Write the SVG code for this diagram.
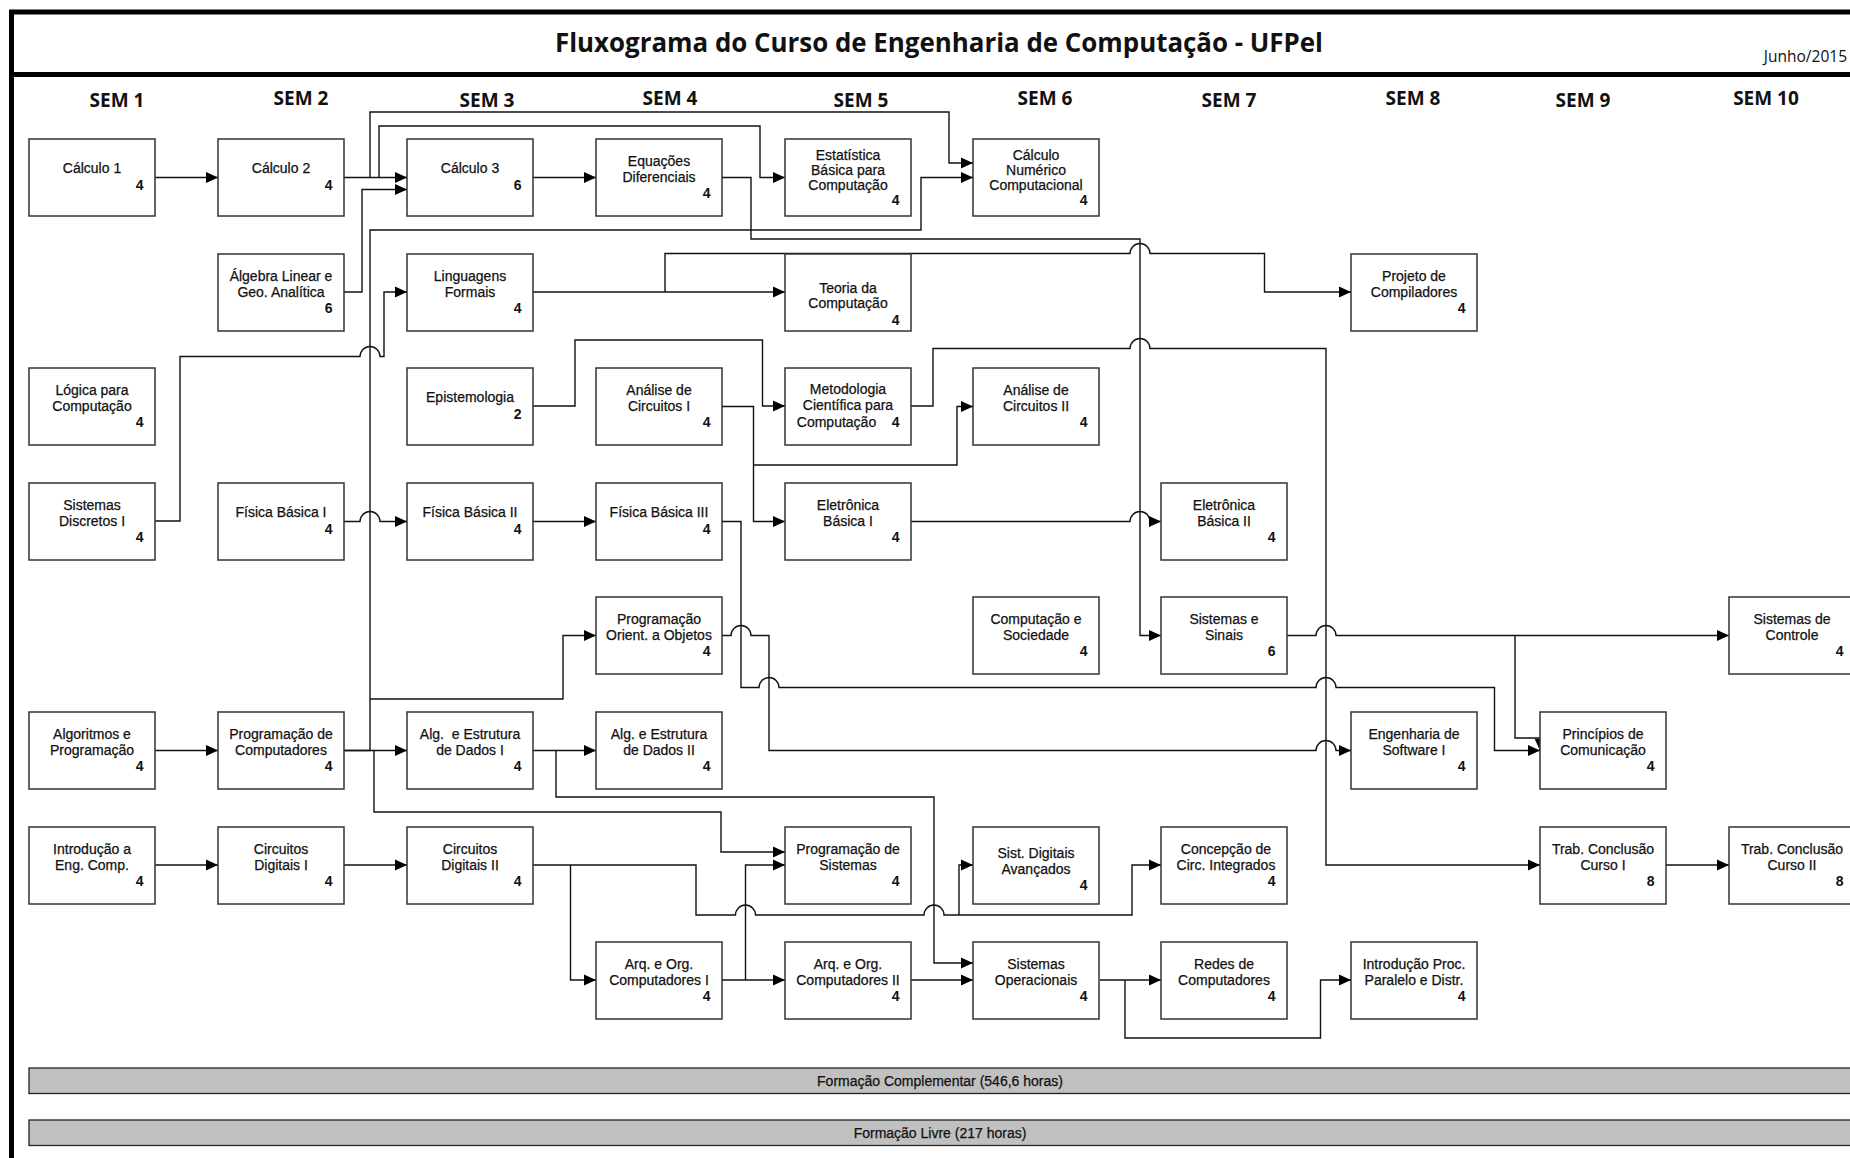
<svg xmlns="http://www.w3.org/2000/svg" width="1850" height="1158" viewBox="0 0 1850 1158">
<style>
.box{fill:#fff;stroke:#333;stroke-width:1.5}
.t{font-family:"Liberation Sans",Arial,sans-serif;font-size:14px;fill:#111;stroke:#111;stroke-width:0.25;text-anchor:middle}
.n{font-family:"Liberation Sans",Arial,sans-serif;font-size:14px;font-weight:bold;fill:#111;text-anchor:end}
.sem{font-family:"Open Sans","Liberation Sans",sans-serif;font-size:19px;font-weight:bold;fill:#111;text-anchor:middle}
.c{fill:none;stroke:#111;stroke-width:1.4;marker-end:url(#ah)}
.bar{fill:#c0c0c0;stroke:#222;stroke-width:1.3}
.frame{stroke:#000;stroke-width:5;fill:none}
</style>
<defs>
<marker id="ah" markerWidth="12" markerHeight="12" refX="12" refY="6" orient="auto" markerUnits="userSpaceOnUse"><path d="M0,0.5 L12,6 L0,11.5 z" fill="#000"/></marker>
</defs>
<rect width="1850" height="1158" fill="#fff"/>
<g id="frame">
<line class="frame" x1="9" y1="12" x2="1850" y2="12"/>
<line class="frame" x1="9" y1="74.5" x2="1850" y2="74.5"/>
<line class="frame" x1="11.5" y1="10" x2="11.5" y2="1158"/>
<text x="939" y="52" font-family="Open Sans, Liberation Sans, sans-serif" font-size="27" font-weight="bold" fill="#111" text-anchor="middle" textLength="768" lengthAdjust="spacingAndGlyphs">Fluxograma do Curso de Engenharia de Computação - UFPel</text>
<text x="1847" y="62" font-family="Open Sans, Liberation Sans, sans-serif" font-size="15.5" fill="#111" text-anchor="end">Junho/2015</text>
</g>
<g id="headers">
<text class="sem" x="117" y="107">SEM 1</text>
<text class="sem" x="301" y="105">SEM 2</text>
<text class="sem" x="487" y="107">SEM 3</text>
<text class="sem" x="670" y="105">SEM 4</text>
<text class="sem" x="861" y="107">SEM 5</text>
<text class="sem" x="1045" y="105">SEM 6</text>
<text class="sem" x="1229" y="107">SEM 7</text>
<text class="sem" x="1413" y="105">SEM 8</text>
<text class="sem" x="1583" y="107">SEM 9</text>
<text class="sem" x="1766" y="105">SEM 10</text>
</g>
<g id="connectors">
<path class="c" d="M155,177.5 H218"/>
<path class="c" d="M344,177.5 H407"/>
<path class="c" d="M370,177.5 V112 H949 V163 H973"/>
<path class="c" d="M379,177.5 V126 H760 V177.5 H785"/>
<path class="c" d="M344,292 H362 V189.5 H407"/>
<path class="c" d="M533,177.5 H596"/>
<path class="c" d="M722,177.5 H751 V239 H1140 V635.5 H1161"/>
<path class="c" d="M344,750.5 H370 V230 H921 V177.5 H973"/>
<path class="c" d="M370,699 H563 V635.5 H596"/>
<path class="c" d="M344,750.5 H407"/>
<path class="c" d="M374,750.5 V812 H721 V852 H785"/>
<path class="c" d="M533,750.5 H596"/>
<path class="c" d="M556,750.5 V797 H934 V963 H973"/>
<path class="c" d="M533,292 H785"/>
<path class="c" d="M665,292 V253.5 H1130 A10,10 0 0 1 1150,253.5 H1264.5 V292 H1351"/>
<path class="c" d="M533,406 H575 V340 H762.5 V406 H785"/>
<path class="c" d="M911,406 H933 V348.5 H1130 A10,10 0 0 1 1150,348.5 H1326 V865 H1540"/>
<path class="c" d="M722,406.5 H753.5 V521.5 H785"/>
<path class="c" d="M753.5,465 H957 V406.5 H973"/>
<path class="c" d="M911,521.5 H1130 A10,10 0 0 1 1150,521.5 H1161"/>
<path class="c" d="M155,521 H180 V356.5 H360 A10,10 0 0 1 380,356.5 H384 V292 H407"/>
<path class="c" d="M344,521.5 H360 A10,10 0 0 1 380,521.5 H407"/>
<path class="c" d="M533,521.5 H596"/>
<path class="c" d="M722,521.5 H741 V687.5 H759 A10,10 0 0 1 779,687.5 H1316 A10,10 0 0 1 1336,687.5 H1494.5 V750.5 H1540"/>
<path class="c" d="M722,635.5 H731 A10,10 0 0 1 751,635.5 H769 V750.5 H1316 A10,10 0 0 1 1336,750.5 H1351"/>
<path class="c" d="M1286,635.5 H1316 A10,10 0 0 1 1336,635.5 H1729"/>
<path class="c" d="M1515,635.5 V738 H1540 V750.5"/>
<path class="c" d="M155,750.5 H218"/>
<path class="c" d="M155,865 H218"/>
<path class="c" d="M344,865 H407"/>
<path class="c" d="M533,865 H696 V915 H735.5 A10,10 0 0 1 755.5,915 H924 A10,10 0 0 1 944,915 H1132 V865 H1161"/>
<path class="c" d="M959,915 V865 H973"/>
<path class="c" d="M570.5,865 V980 H596"/>
<path class="c" d="M722,980 H785"/>
<path class="c" d="M745.5,980 V865 H785"/>
<path class="c" d="M911,980 H973"/>
<path class="c" d="M1100,980 H1161"/>
<path class="c" d="M1125,980 V1038 H1320.5 V980 H1351"/>
<path class="c" d="M1666,865 H1729"/>
</g>
<g id="n-calculo1"><rect class="box" x="29" y="139" width="126" height="77"/><text class="t" x="92" y="173">Cálculo 1</text><text class="n" x="143.5" y="190">4</text></g>
<g id="n-calculo2"><rect class="box" x="218" y="139" width="126" height="77"/><text class="t" x="281" y="173">Cálculo 2</text><text class="n" x="332.5" y="190">4</text></g>
<g id="n-calculo3"><rect class="box" x="407" y="139" width="126" height="77"/><text class="t" x="470" y="173">Cálculo 3</text><text class="n" x="521.5" y="190">6</text></g>
<g id="n-eqdif"><rect class="box" x="596" y="139" width="126" height="77"/><text class="t" x="659" y="165.5">Equações</text><text class="t" x="659" y="181.5">Diferenciais</text><text class="n" x="710.5" y="198">4</text></g>
<g id="n-estat"><rect class="box" x="785" y="139" width="126" height="77"/><text class="t" x="848" y="160">Estatística</text><text class="t" x="848" y="175">Básica para</text><text class="t" x="848" y="190">Computação</text><text class="n" x="899.5" y="205">4</text></g>
<g id="n-calcnum"><rect class="box" x="973" y="139" width="126" height="77"/><text class="t" x="1036" y="160">Cálculo</text><text class="t" x="1036" y="175">Numérico</text><text class="t" x="1036" y="190">Computacional</text><text class="n" x="1087.5" y="205">4</text></g>
<g id="n-algebra"><rect class="box" x="218" y="254" width="126" height="77"/><text class="t" x="281" y="280.5">Álgebra Linear e</text><text class="t" x="281" y="296.5">Geo. Analítica</text><text class="n" x="332.5" y="313">6</text></g>
<g id="n-ling"><rect class="box" x="407" y="254" width="126" height="77"/><text class="t" x="470" y="280.5">Linguagens</text><text class="t" x="470" y="296.5">Formais</text><text class="n" x="521.5" y="313">4</text></g>
<g id="n-teoria"><rect class="box" x="785" y="254" width="126" height="77"/><text class="t" x="848" y="293">Teoria da</text><text class="t" x="848" y="308">Computação</text><text class="n" x="899.5" y="325">4</text></g>
<g id="n-compil"><rect class="box" x="1351" y="254" width="126" height="77"/><text class="t" x="1414" y="280.5">Projeto de</text><text class="t" x="1414" y="296.5">Compiladores</text><text class="n" x="1465.5" y="313">4</text></g>
<g id="n-logica"><rect class="box" x="29" y="368" width="126" height="77"/><text class="t" x="92" y="394.5">Lógica para</text><text class="t" x="92" y="410.5">Computação</text><text class="n" x="143.5" y="427">4</text></g>
<g id="n-epist"><rect class="box" x="407" y="368" width="126" height="77"/><text class="t" x="470" y="402">Epistemologia</text><text class="n" x="521.5" y="419">2</text></g>
<g id="n-analise1"><rect class="box" x="596" y="368" width="126" height="77"/><text class="t" x="659" y="394.5">Análise de</text><text class="t" x="659" y="410.5">Circuitos I</text><text class="n" x="710.5" y="427">4</text></g>
<g id="n-metod"><rect class="box" x="785" y="368" width="126" height="77"/><text class="t" x="848" y="394">Metodologia</text><text class="t" x="848" y="410">Científica para</text><text class="t" x="836.5" y="426.5">Computação</text><text class="n" x="899.5" y="426.5">4</text></g>
<g id="n-analise2"><rect class="box" x="973" y="368" width="126" height="77"/><text class="t" x="1036" y="394.5">Análise de</text><text class="t" x="1036" y="410.5">Circuitos II</text><text class="n" x="1087.5" y="427">4</text></g>
<g id="n-sistdisc"><rect class="box" x="29" y="483" width="126" height="77"/><text class="t" x="92" y="509.5">Sistemas</text><text class="t" x="92" y="525.5">Discretos I</text><text class="n" x="143.5" y="542">4</text></g>
<g id="n-fis1"><rect class="box" x="218" y="483" width="126" height="77"/><text class="t" x="281" y="517">Física Básica I</text><text class="n" x="332.5" y="534">4</text></g>
<g id="n-fis2"><rect class="box" x="407" y="483" width="126" height="77"/><text class="t" x="470" y="517">Física Básica II</text><text class="n" x="521.5" y="534">4</text></g>
<g id="n-fis3"><rect class="box" x="596" y="483" width="126" height="77"/><text class="t" x="659" y="517">Física Básica III</text><text class="n" x="710.5" y="534">4</text></g>
<g id="n-elet1"><rect class="box" x="785" y="483" width="126" height="77"/><text class="t" x="848" y="509.5">Eletrônica</text><text class="t" x="848" y="525.5">Básica I</text><text class="n" x="899.5" y="542">4</text></g>
<g id="n-elet2"><rect class="box" x="1161" y="483" width="126" height="77"/><text class="t" x="1224" y="509.5">Eletrônica</text><text class="t" x="1224" y="525.5">Básica II</text><text class="n" x="1275.5" y="542">4</text></g>
<g id="n-poo"><rect class="box" x="596" y="597" width="126" height="77"/><text class="t" x="659" y="623.5">Programação</text><text class="t" x="659" y="639.5">Orient. a Objetos</text><text class="n" x="710.5" y="656">4</text></g>
<g id="n-compsoc"><rect class="box" x="973" y="597" width="126" height="77"/><text class="t" x="1036" y="623.5">Computação e</text><text class="t" x="1036" y="639.5">Sociedade</text><text class="n" x="1087.5" y="656">4</text></g>
<g id="n-sinais"><rect class="box" x="1161" y="597" width="126" height="77"/><text class="t" x="1224" y="623.5">Sistemas e</text><text class="t" x="1224" y="639.5">Sinais</text><text class="n" x="1275.5" y="656">6</text></g>
<g id="n-controle"><rect class="box" x="1729" y="597" width="126" height="77"/><text class="t" x="1792" y="623.5">Sistemas de</text><text class="t" x="1792" y="639.5">Controle</text><text class="n" x="1843.5" y="656">4</text></g>
<g id="n-algprog"><rect class="box" x="29" y="712" width="126" height="77"/><text class="t" x="92" y="738.5">Algoritmos e</text><text class="t" x="92" y="754.5">Programação</text><text class="n" x="143.5" y="771">4</text></g>
<g id="n-progcomp"><rect class="box" x="218" y="712" width="126" height="77"/><text class="t" x="281" y="738.5">Programação de</text><text class="t" x="281" y="754.5">Computadores</text><text class="n" x="332.5" y="771">4</text></g>
<g id="n-aed1"><rect class="box" x="407" y="712" width="126" height="77"/><text class="t" x="470" y="738.5" xml:space="preserve">Alg.  e Estrutura</text><text class="t" x="470" y="754.5">de Dados I</text><text class="n" x="521.5" y="771">4</text></g>
<g id="n-aed2"><rect class="box" x="596" y="712" width="126" height="77"/><text class="t" x="659" y="738.5">Alg. e Estrutura</text><text class="t" x="659" y="754.5">de Dados II</text><text class="n" x="710.5" y="771">4</text></g>
<g id="n-engsw"><rect class="box" x="1351" y="712" width="126" height="77"/><text class="t" x="1414" y="738.5">Engenharia de</text><text class="t" x="1414" y="754.5">Software I</text><text class="n" x="1465.5" y="771">4</text></g>
<g id="n-princ"><rect class="box" x="1540" y="712" width="126" height="77"/><text class="t" x="1603" y="738.5">Princípios de</text><text class="t" x="1603" y="754.5">Comunicação</text><text class="n" x="1654.5" y="771">4</text></g>
<g id="n-intro"><rect class="box" x="29" y="827" width="126" height="77"/><text class="t" x="92" y="853.5">Introdução a</text><text class="t" x="92" y="869.5">Eng. Comp.</text><text class="n" x="143.5" y="886">4</text></g>
<g id="n-cd1"><rect class="box" x="218" y="827" width="126" height="77"/><text class="t" x="281" y="853.5">Circuitos</text><text class="t" x="281" y="869.5">Digitais I</text><text class="n" x="332.5" y="886">4</text></g>
<g id="n-cd2"><rect class="box" x="407" y="827" width="126" height="77"/><text class="t" x="470" y="853.5">Circuitos</text><text class="t" x="470" y="869.5">Digitais II</text><text class="n" x="521.5" y="886">4</text></g>
<g id="n-progsist"><rect class="box" x="785" y="827" width="126" height="77"/><text class="t" x="848" y="853.5">Programação de</text><text class="t" x="848" y="869.5">Sistemas</text><text class="n" x="899.5" y="886">4</text></g>
<g id="n-sda"><rect class="box" x="973" y="827" width="126" height="77"/><text class="t" x="1036" y="858">Sist. Digitais</text><text class="t" x="1036" y="873.5">Avançados</text><text class="n" x="1087.5" y="890">4</text></g>
<g id="n-ci"><rect class="box" x="1161" y="827" width="126" height="77"/><text class="t" x="1226" y="853.5">Concepção de</text><text class="t" x="1226" y="869.5">Circ. Integrados</text><text class="n" x="1275.5" y="886">4</text></g>
<g id="n-tcc1"><rect class="box" x="1540" y="827" width="126" height="77"/><text class="t" x="1603" y="853.5">Trab. Conclusão</text><text class="t" x="1603" y="869.5">Curso I</text><text class="n" x="1654.5" y="886">8</text></g>
<g id="n-tcc2"><rect class="box" x="1729" y="827" width="126" height="77"/><text class="t" x="1792" y="853.5">Trab. Conclusão</text><text class="t" x="1792" y="869.5">Curso II</text><text class="n" x="1843.5" y="886">8</text></g>
<g id="n-arq1"><rect class="box" x="596" y="942" width="126" height="77"/><text class="t" x="659" y="968.5">Arq. e Org.</text><text class="t" x="659" y="984.5">Computadores I</text><text class="n" x="710.5" y="1001">4</text></g>
<g id="n-arq2"><rect class="box" x="785" y="942" width="126" height="77"/><text class="t" x="848" y="968.5">Arq. e Org.</text><text class="t" x="848" y="984.5">Computadores II</text><text class="n" x="899.5" y="1001">4</text></g>
<g id="n-so"><rect class="box" x="973" y="942" width="126" height="77"/><text class="t" x="1036" y="968.5">Sistemas</text><text class="t" x="1036" y="984.5">Operacionais</text><text class="n" x="1087.5" y="1001">4</text></g>
<g id="n-redes"><rect class="box" x="1161" y="942" width="126" height="77"/><text class="t" x="1224" y="968.5">Redes de</text><text class="t" x="1224" y="984.5">Computadores</text><text class="n" x="1275.5" y="1001">4</text></g>
<g id="n-ppd"><rect class="box" x="1351" y="942" width="126" height="77"/><text class="t" x="1414" y="968.5">Introdução Proc.</text><text class="t" x="1414" y="984.5">Paralelo e Distr.</text><text class="n" x="1465.5" y="1001">4</text></g>
<g id="n-formcomp"><rect class="bar" x="29" y="1068" width="1822" height="25.5"/><text class="t" x="940" y="1085.5">Formação Complementar (546,6 horas)</text></g>
<g id="n-formlivre"><rect class="bar" x="29" y="1120" width="1822" height="25.5"/><text class="t" x="940" y="1137.5">Formação Livre (217 horas)</text></g>
</svg>
